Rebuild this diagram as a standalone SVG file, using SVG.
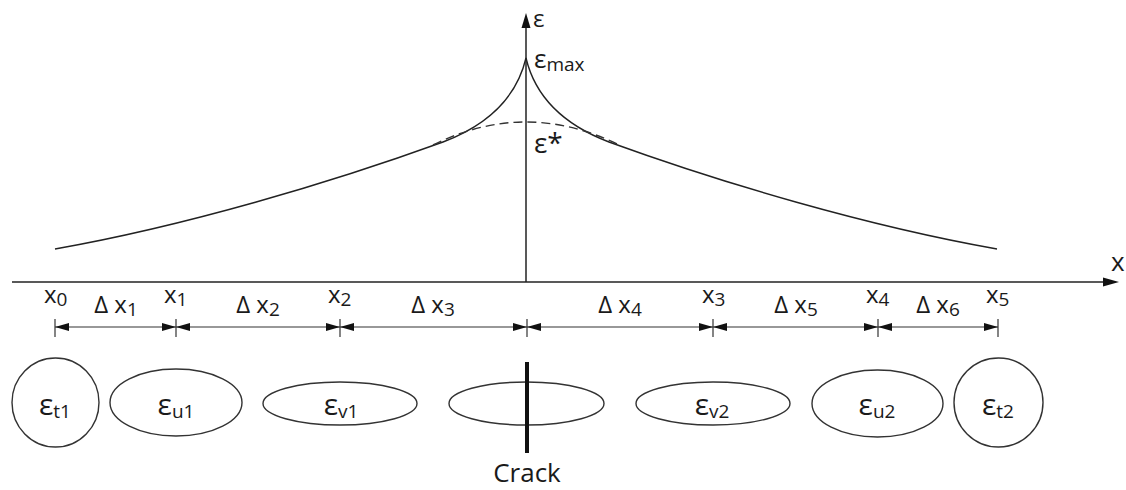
<svg xmlns="http://www.w3.org/2000/svg" width="1126" height="490" viewBox="0 0 1126 490">
<style>
  text { font-family: "Open Sans", "Noto Sans", "Liberation Sans", sans-serif; fill: #1a1a1a; }
  .ax { stroke: #222; stroke-width: 1.5; fill: none; }
  .cv { stroke: #222; stroke-width: 1.4; fill: none; }
  .dash { stroke: #333; stroke-width: 1.4; fill: none; stroke-dasharray: 9 5; }
  .dim { stroke: #333; stroke-width: 1.2; fill: none; marker-start: url(#ah); marker-end: url(#ah); }
  .tick { stroke: #333; stroke-width: 1.2; }
  .el { stroke: #333; stroke-width: 1.4; fill: #fff; }
  .xl { font-size: 24px; }
  .dl { font-size: 24px; }
  .el-t { font-size: 30px; text-anchor: middle; }
  .sub { font-size: 19px; }
</style>
<defs>
  <marker id="ah" markerUnits="userSpaceOnUse" markerWidth="14" markerHeight="8" refX="14" refY="4" orient="auto-start-reverse">
    <path d="M0,0 L14,4 L0,8 z" fill="#111"/>
  </marker>
</defs>
<rect width="1126" height="490" fill="#fff"/>

<!-- axes -->
<line class="ax" x1="12" y1="282" x2="1106" y2="282"/>
<path d="M1103,277.5 L1119,282 L1103,286.5 z" fill="#111"/>
<text x="1111" y="271" style="font-size:26px">x</text>
<line class="ax" x1="526" y1="282" x2="526" y2="26"/>
<path d="M521.5,28 L526,13 L530.5,28 z" fill="#111"/>
<text x="533" y="27" style="font-size:24px">ε</text>

<!-- curves -->
<path class="cv" d="M55,249 C185,226 330,183 443,142 C485,126 516,100 526,58 C536,100 567,126 609,142 C722,183 867,226 997,249"/>
<path class="dash" d="M433,145 Q526,99 619,145"/>
<text x="534" y="68" style="font-size:26px">ε<tspan class="sub" dy="3">max</tspan></text>
<text x="534" y="153" style="font-size:28px">ε*</text>

<!-- dimension lines -->
<g id="connectors">
  <line class="tick" x1="55" y1="319" x2="55" y2="337"/>
  <line class="tick" x1="176" y1="319" x2="176" y2="337"/>
  <line class="tick" x1="340" y1="319" x2="340" y2="337"/>
  <line class="tick" x1="527" y1="319" x2="527" y2="337"/>
  <line class="tick" x1="713" y1="319" x2="713" y2="337"/>
  <line class="tick" x1="878" y1="319" x2="878" y2="337"/>
  <line class="tick" x1="998" y1="319" x2="998" y2="337"/>
  <line class="dim" x1="55" y1="327" x2="176" y2="327"/>
  <line class="dim" x1="176" y1="327" x2="340" y2="327"/>
  <line class="dim" x1="340" y1="327" x2="527" y2="327"/>
  <line class="dim" x1="527" y1="327" x2="713" y2="327"/>
  <line class="dim" x1="713" y1="327" x2="878" y2="327"/>
  <line class="dim" x1="878" y1="327" x2="998" y2="327"/>
</g>

<!-- point labels -->
<text class="xl" x="44" y="303">x<tspan class="sub" dy="3">0</tspan></text>
<text class="xl" x="164" y="303">x<tspan class="sub" dy="3">1</tspan></text>
<text class="xl" x="328" y="303">x<tspan class="sub" dy="3">2</tspan></text>
<text class="xl" x="702" y="303">x<tspan class="sub" dy="3">3</tspan></text>
<text class="xl" x="866" y="303">x<tspan class="sub" dy="3">4</tspan></text>
<text class="xl" x="986" y="303">x<tspan class="sub" dy="3">5</tspan></text>

<!-- interval labels -->
<text class="dl" x="116" y="313" text-anchor="middle">Δ x<tspan class="sub" dy="3">1</tspan></text>
<text class="dl" x="258" y="313" text-anchor="middle">Δ x<tspan class="sub" dy="3">2</tspan></text>
<text class="dl" x="433" y="313" text-anchor="middle">Δ x<tspan class="sub" dy="3">3</tspan></text>
<text class="dl" x="620" y="313" text-anchor="middle">Δ x<tspan class="sub" dy="3">4</tspan></text>
<text class="dl" x="796" y="313" text-anchor="middle">Δ x<tspan class="sub" dy="3">5</tspan></text>
<text class="dl" x="938" y="313" text-anchor="middle">Δ x<tspan class="sub" dy="3">6</tspan></text>

<!-- elements -->
<g id="t1">
  <ellipse class="el" cx="55.5" cy="402.5" rx="43.5" ry="44.5"/>
  <text class="el-t" x="55" y="415">ε<tspan class="sub" dy="3">t1</tspan></text>
</g>
<g id="u1">
  <ellipse class="el" cx="176" cy="402.5" rx="66" ry="33.5"/>
  <text class="el-t" x="176" y="415">ε<tspan class="sub" dy="3">u1</tspan></text>
</g>
<g id="v1">
  <ellipse class="el" cx="340" cy="403.5" rx="77" ry="21.5"/>
  <text class="el-t" x="341" y="415">ε<tspan class="sub" dy="3">v1</tspan></text>
</g>
<g id="crack">
  <ellipse class="el" cx="526.5" cy="403.5" rx="77.5" ry="21.5"/>
  <line x1="527" y1="362" x2="527" y2="453" stroke="#111" stroke-width="4"/>
  <text x="527" y="482" text-anchor="middle" style="font-size:26px">Crack</text>
</g>
<g id="v2">
  <ellipse class="el" cx="713" cy="403.5" rx="77" ry="21.5"/>
  <text class="el-t" x="712" y="415">ε<tspan class="sub" dy="3">v2</tspan></text>
</g>
<g id="u2">
  <ellipse class="el" cx="877.5" cy="403.5" rx="65.5" ry="33.5"/>
  <text class="el-t" x="877" y="415">ε<tspan class="sub" dy="3">u2</tspan></text>
</g>
<g id="t2">
  <ellipse class="el" cx="998.5" cy="402.5" rx="44.5" ry="44.5"/>
  <text class="el-t" x="998" y="415">ε<tspan class="sub" dy="3">t2</tspan></text>
</g>
</svg>
